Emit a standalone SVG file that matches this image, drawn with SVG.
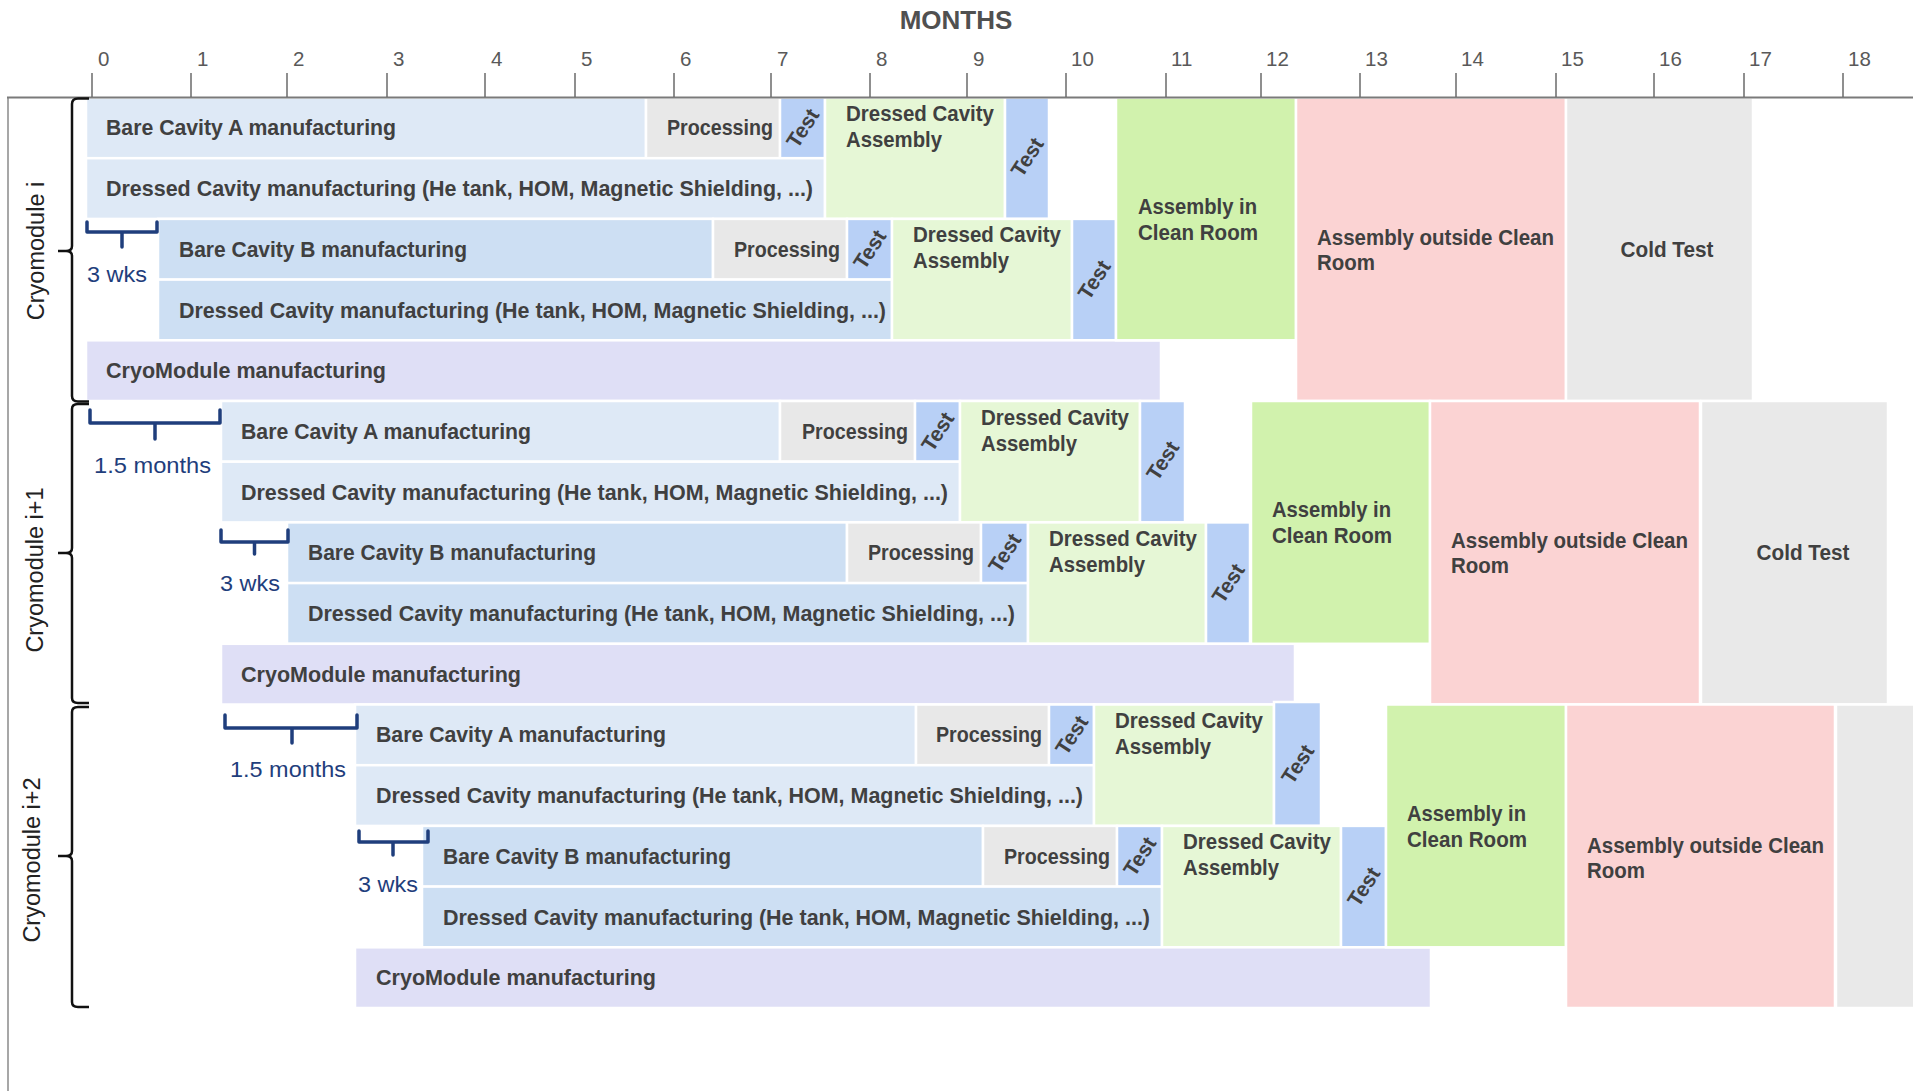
<svg xmlns="http://www.w3.org/2000/svg" width="1913" height="1091" viewBox="0 0 1913 1091">
<style>
rect{stroke:#fff;stroke-width:2.5}
.bA{fill:#dee9f6}.bB{fill:#cddff3}.pr{fill:#e8e8e8}.ts{fill:#b8d0f6}.dca{fill:#e6f7d6}.acr{fill:#d1f2ad}.aocr{fill:#fbd3d3}.ct{fill:#e9e9e9}.cm{fill:#dfdff6}
.lb{font-family:"Liberation Sans",Arial,sans-serif;font-weight:bold;font-size:21.5px;fill:#404040}
.tl{font-size:21px;text-anchor:middle;dominant-baseline:central}
.ax{font-family:"Liberation Sans",Arial,sans-serif;font-size:20.5px;fill:#595959}
.bl{font-family:"Liberation Sans",Arial,sans-serif;font-size:22px;fill:#1f3e7c}
.cmt{font-family:"Liberation Sans",Arial,sans-serif;font-size:23.5px;fill:#222;text-anchor:middle;dominant-baseline:central}
.brb{fill:none;stroke:#1f3e7c;stroke-width:3.5;stroke-linejoin:round;stroke-linecap:round}
.brk{fill:none;stroke:#111;stroke-width:2.5}
</style>
<rect x="0" y="0" width="1913" height="1091" fill="#fff" stroke="none"/>

<!-- ===== Cryomodule i ===== -->
<g id="cm0">
<g id="m0-bareA"><rect class="bA" x="86" y="97.5" width="560" height="60.7"/><text class="lb" x="106" y="135.4" textLength="290" lengthAdjust="spacingAndGlyphs">Bare Cavity A manufacturing</text></g>
<g id="m0-procA"><rect class="pr" x="646" y="97.5" width="134" height="60.7"/><text class="lb" x="773" y="135.4" text-anchor="end" textLength="106" lengthAdjust="spacingAndGlyphs">Processing</text></g>
<g id="m0-testA"><rect class="ts" x="780" y="97.5" width="45" height="60.7"/><text class="lb tl" transform="translate(802.5,127.9) rotate(-57)">Test</text></g>
<g id="m0-dressA"><rect class="bA" x="86" y="158.2" width="739" height="60.7"/><text class="lb" x="106" y="196" textLength="707" lengthAdjust="spacingAndGlyphs">Dressed Cavity manufacturing (He tank, HOM, Magnetic Shielding, ...)</text></g>
<g id="m0-dcaA"><rect class="dca" x="825" y="97.5" width="180" height="121.4"/><text class="lb" x="846" y="121" textLength="148" lengthAdjust="spacingAndGlyphs">Dressed Cavity</text><text class="lb" x="846" y="147" textLength="96" lengthAdjust="spacingAndGlyphs">Assembly</text></g>
<g id="m0-testA2"><rect class="ts" x="1005" y="97.5" width="44" height="121.4"/><text class="lb tl" transform="translate(1027,157) rotate(-57)">Test</text></g>
<g id="m0-bareB"><rect class="bB" x="158" y="218.9" width="555" height="60.7"/><text class="lb" x="179" y="256.8" textLength="288" lengthAdjust="spacingAndGlyphs">Bare Cavity B manufacturing</text></g>
<g id="m0-procB"><rect class="pr" x="713" y="218.9" width="134" height="60.7"/><text class="lb" x="840" y="256.8" text-anchor="end" textLength="106" lengthAdjust="spacingAndGlyphs">Processing</text></g>
<g id="m0-testB"><rect class="ts" x="847" y="218.9" width="45" height="60.7"/><text class="lb tl" transform="translate(869.5,249.3) rotate(-57)">Test</text></g>
<g id="m0-dressB"><rect class="bB" x="158" y="279.6" width="734" height="60.7"/><text class="lb" x="179" y="317.5" textLength="707" lengthAdjust="spacingAndGlyphs">Dressed Cavity manufacturing (He tank, HOM, Magnetic Shielding, ...)</text></g>
<g id="m0-dcaB"><rect class="dca" x="892" y="218.9" width="180" height="121.4"/><text class="lb" x="913" y="242.4" textLength="148" lengthAdjust="spacingAndGlyphs">Dressed Cavity</text><text class="lb" x="913" y="268.4" textLength="96" lengthAdjust="spacingAndGlyphs">Assembly</text></g>
<g id="m0-testB2"><rect class="ts" x="1072" y="218.9" width="44" height="121.4"/><text class="lb tl" transform="translate(1094,279.6) rotate(-57)">Test</text></g>
<g id="m0-cryo"><rect class="cm" x="86" y="340.3" width="1075" height="60.7"/><text class="lb" x="106" y="378.2" textLength="280" lengthAdjust="spacingAndGlyphs">CryoModule manufacturing</text></g>
<g id="m0-acr"><rect class="acr" x="1116" y="97.5" width="180" height="242.8"/><text class="lb" x="1138" y="213.9" textLength="119" lengthAdjust="spacingAndGlyphs">Assembly in</text><text class="lb" x="1138" y="239.9" textLength="120" lengthAdjust="spacingAndGlyphs">Clean Room</text></g>
<g id="m0-aocr"><rect class="aocr" x="1296" y="97.5" width="270" height="303.5"/><text class="lb" x="1317" y="244.8" textLength="237" lengthAdjust="spacingAndGlyphs">Assembly outside Clean</text><text class="lb" x="1317" y="269.8" textLength="58" lengthAdjust="spacingAndGlyphs">Room</text></g>
<g id="m0-cold"><rect class="ct" x="1566" y="97.5" width="187" height="303.5"/><text class="lb" x="1667" y="257" text-anchor="middle" textLength="93" lengthAdjust="spacingAndGlyphs">Cold Test</text></g>
</g>

<!-- ===== Cryomodule i+1 ===== -->
<g id="cm1">
<g id="m1-bareA"><rect class="bA" x="221" y="401" width="559" height="60.7"/><text class="lb" x="241" y="438.9" textLength="290" lengthAdjust="spacingAndGlyphs">Bare Cavity A manufacturing</text></g>
<g id="m1-procA"><rect class="pr" x="780" y="401" width="135" height="60.7"/><text class="lb" x="908" y="438.9" text-anchor="end" textLength="106" lengthAdjust="spacingAndGlyphs">Processing</text></g>
<g id="m1-testA"><rect class="ts" x="915" y="401" width="45" height="60.7"/><text class="lb tl" transform="translate(937.5,431.4) rotate(-57)">Test</text></g>
<g id="m1-dressA"><rect class="bA" x="221" y="461.7" width="739" height="60.7"/><text class="lb" x="241" y="499.6" textLength="707" lengthAdjust="spacingAndGlyphs">Dressed Cavity manufacturing (He tank, HOM, Magnetic Shielding, ...)</text></g>
<g id="m1-dcaA"><rect class="dca" x="960" y="401" width="180" height="121.4"/><text class="lb" x="981" y="424.5" textLength="148" lengthAdjust="spacingAndGlyphs">Dressed Cavity</text><text class="lb" x="981" y="450.5" textLength="96" lengthAdjust="spacingAndGlyphs">Assembly</text></g>
<g id="m1-testA2"><rect class="ts" x="1140" y="401" width="45" height="121.4"/><text class="lb tl" transform="translate(1162.5,460.5) rotate(-57)">Test</text></g>
<g id="m1-bareB"><rect class="bB" x="287" y="522.4" width="560" height="60.7"/><text class="lb" x="308" y="560.3" textLength="288" lengthAdjust="spacingAndGlyphs">Bare Cavity B manufacturing</text></g>
<g id="m1-procB"><rect class="pr" x="847" y="522.4" width="134" height="60.7"/><text class="lb" x="974" y="560.3" text-anchor="end" textLength="106" lengthAdjust="spacingAndGlyphs">Processing</text></g>
<g id="m1-testB"><rect class="ts" x="981" y="522.4" width="47" height="60.7"/><text class="lb tl" transform="translate(1004.5,552.8) rotate(-57)">Test</text></g>
<g id="m1-dressB"><rect class="bB" x="287" y="583.1" width="741" height="60.7"/><text class="lb" x="308" y="621" textLength="707" lengthAdjust="spacingAndGlyphs">Dressed Cavity manufacturing (He tank, HOM, Magnetic Shielding, ...)</text></g>
<g id="m1-dcaB"><rect class="dca" x="1028" y="522.4" width="178" height="121.4"/><text class="lb" x="1049" y="545.9" textLength="148" lengthAdjust="spacingAndGlyphs">Dressed Cavity</text><text class="lb" x="1049" y="571.9" textLength="96" lengthAdjust="spacingAndGlyphs">Assembly</text></g>
<g id="m1-testB2"><rect class="ts" x="1206" y="522.4" width="44" height="121.4"/><text class="lb tl" transform="translate(1228,583.1) rotate(-57)">Test</text></g>
<g id="m1-cryo"><rect class="cm" x="221" y="643.8" width="1074" height="60.7"/><text class="lb" x="241" y="681.7" textLength="280" lengthAdjust="spacingAndGlyphs">CryoModule manufacturing</text></g>
<g id="m1-acr"><rect class="acr" x="1251" y="401" width="179" height="242.8"/><text class="lb" x="1272" y="517.4" textLength="119" lengthAdjust="spacingAndGlyphs">Assembly in</text><text class="lb" x="1272" y="543.4" textLength="120" lengthAdjust="spacingAndGlyphs">Clean Room</text></g>
<g id="m1-aocr"><rect class="aocr" x="1430" y="401" width="270" height="303.5"/><text class="lb" x="1451" y="548.3" textLength="237" lengthAdjust="spacingAndGlyphs">Assembly outside Clean</text><text class="lb" x="1451" y="573.3" textLength="58" lengthAdjust="spacingAndGlyphs">Room</text></g>
<g id="m1-cold"><rect class="ct" x="1701" y="401" width="187" height="303.5"/><text class="lb" x="1803" y="560" text-anchor="middle" textLength="93" lengthAdjust="spacingAndGlyphs">Cold Test</text></g>
</g>

<!-- ===== Cryomodule i+2 ===== -->
<g id="cm2">
<g id="m2-bareA"><rect class="bA" x="355" y="704.5" width="561" height="60.7"/><text class="lb" x="376" y="742.4" textLength="290" lengthAdjust="spacingAndGlyphs">Bare Cavity A manufacturing</text></g>
<g id="m2-procA"><rect class="pr" x="916" y="704.5" width="133" height="60.7"/><text class="lb" x="1042" y="742.4" text-anchor="end" textLength="106" lengthAdjust="spacingAndGlyphs">Processing</text></g>
<g id="m2-testA"><rect class="ts" x="1049" y="704.5" width="45" height="60.7"/><text class="lb tl" transform="translate(1071.5,734.9) rotate(-57)">Test</text></g>
<g id="m2-dressA"><rect class="bA" x="355" y="765.2" width="739" height="60.7"/><text class="lb" x="376" y="803" textLength="707" lengthAdjust="spacingAndGlyphs">Dressed Cavity manufacturing (He tank, HOM, Magnetic Shielding, ...)</text></g>
<g id="m2-dcaA"><rect class="dca" x="1094" y="704.5" width="180" height="121.4"/><text class="lb" x="1115" y="728" textLength="148" lengthAdjust="spacingAndGlyphs">Dressed Cavity</text><text class="lb" x="1115" y="754" textLength="96" lengthAdjust="spacingAndGlyphs">Assembly</text></g>
<g id="m2-testA2"><rect class="ts" x="1274" y="702" width="47" height="123.9"/><text class="lb tl" transform="translate(1297.5,764) rotate(-57)">Test</text></g>
<g id="m2-bareB"><rect class="bB" x="422" y="825.9" width="561" height="60.7"/><text class="lb" x="443" y="863.8" textLength="288" lengthAdjust="spacingAndGlyphs">Bare Cavity B manufacturing</text></g>
<g id="m2-procB"><rect class="pr" x="983" y="825.9" width="134" height="60.7"/><text class="lb" x="1110" y="863.8" text-anchor="end" textLength="106" lengthAdjust="spacingAndGlyphs">Processing</text></g>
<g id="m2-testB"><rect class="ts" x="1117" y="825.9" width="45" height="60.7"/><text class="lb tl" transform="translate(1139.5,856.3) rotate(-57)">Test</text></g>
<g id="m2-dressB"><rect class="bB" x="422" y="886.6" width="740" height="60.7"/><text class="lb" x="443" y="924.5" textLength="707" lengthAdjust="spacingAndGlyphs">Dressed Cavity manufacturing (He tank, HOM, Magnetic Shielding, ...)</text></g>
<g id="m2-dcaB"><rect class="dca" x="1162" y="825.9" width="179" height="121.4"/><text class="lb" x="1183" y="849.4" textLength="148" lengthAdjust="spacingAndGlyphs">Dressed Cavity</text><text class="lb" x="1183" y="875.4" textLength="96" lengthAdjust="spacingAndGlyphs">Assembly</text></g>
<g id="m2-testB2"><rect class="ts" x="1341" y="825.9" width="45" height="121.4"/><text class="lb tl" transform="translate(1363.5,886.6) rotate(-57)">Test</text></g>
<g id="m2-cryo"><rect class="cm" x="355" y="947.3" width="1076" height="60.7"/><text class="lb" x="376" y="985.2" textLength="280" lengthAdjust="spacingAndGlyphs">CryoModule manufacturing</text></g>
<g id="m2-acr"><rect class="acr" x="1386" y="704.5" width="180" height="242.8"/><text class="lb" x="1407" y="821" textLength="119" lengthAdjust="spacingAndGlyphs">Assembly in</text><text class="lb" x="1407" y="847" textLength="120" lengthAdjust="spacingAndGlyphs">Clean Room</text></g>
<g id="m2-aocr"><rect class="aocr" x="1566" y="704.5" width="269" height="303.5"/><text class="lb" x="1587" y="852.5" textLength="237" lengthAdjust="spacingAndGlyphs">Assembly outside Clean</text><text class="lb" x="1587" y="877.5" textLength="58" lengthAdjust="spacingAndGlyphs">Room</text></g>
<g id="m2-cold"><rect class="ct" x="1836" y="704.5" width="90" height="303.5"/></g>
</g>

<!-- ===== Axis ===== -->
<g id="axis">
<line x1="8" y1="97.5" x2="8" y2="1091" stroke="#8a8a8a" stroke-width="1.5"/>
<line x1="7" y1="97.5" x2="1913" y2="97.5" stroke="#7a7a7a" stroke-width="2"/>
<g stroke="#6a6a6a" stroke-width="1.5">
<line x1="92" y1="73" x2="92" y2="97"/><line x1="191" y1="73" x2="191" y2="97"/><line x1="287" y1="73" x2="287" y2="97"/><line x1="387" y1="73" x2="387" y2="97"/><line x1="485" y1="73" x2="485" y2="97"/><line x1="575" y1="73" x2="575" y2="97"/><line x1="674" y1="73" x2="674" y2="97"/><line x1="771" y1="73" x2="771" y2="97"/><line x1="870" y1="73" x2="870" y2="97"/><line x1="967" y1="73" x2="967" y2="97"/><line x1="1066" y1="73" x2="1066" y2="97"/><line x1="1166" y1="73" x2="1166" y2="97"/><line x1="1261" y1="73" x2="1261" y2="97"/><line x1="1360" y1="73" x2="1360" y2="97"/><line x1="1456" y1="73" x2="1456" y2="97"/><line x1="1556" y1="73" x2="1556" y2="97"/><line x1="1654" y1="73" x2="1654" y2="97"/><line x1="1744" y1="73" x2="1744" y2="97"/><line x1="1843" y1="73" x2="1843" y2="97"/>
</g>
<g class="ax">
<text x="98" y="66">0</text><text x="197" y="66">1</text><text x="293" y="66">2</text><text x="393" y="66">3</text><text x="491" y="66">4</text><text x="581" y="66">5</text><text x="680" y="66">6</text><text x="777" y="66">7</text><text x="876" y="66">8</text><text x="973" y="66">9</text><text x="1071" y="66">10</text><text x="1171" y="66">11</text><text x="1266" y="66">12</text><text x="1365" y="66">13</text><text x="1461" y="66">14</text><text x="1561" y="66">15</text><text x="1659" y="66">16</text><text x="1749" y="66">17</text><text x="1848" y="66">18</text>
</g>
<text x="956" y="29" text-anchor="middle" font-family="Liberation Sans, Arial, sans-serif" font-weight="bold" font-size="26" fill="#505050">MONTHS</text>
</g>

<!-- ===== Cryomodule braces and labels ===== -->
<g id="cryomodule-labels">
<path class="brk" d="M89,98.5 H78 Q72,98.5 72,104 V246 Q72,251 66,251 H58 M66,251 Q72,251 72,256 V396 Q72,401.5 78,401.5 H89"/>
<path class="brk" d="M89,404 H78 Q72,404 72,409 V548 Q72,553 66,553 H58 M66,553 Q72,553 72,558 V698 Q72,703 78,703 H89"/>
<path class="brk" d="M89,707 H78 Q72,707 72,712 V851 Q72,856 66,856 H58 M66,856 Q72,856 72,861 V1002 Q72,1007 78,1007 H89"/>
<text class="cmt" transform="translate(36,251) rotate(-90)">Cryomodule i</text>
<text class="cmt" transform="translate(35,570) rotate(-90)">Cryomodule i+1</text>
<text class="cmt" transform="translate(32,860) rotate(-90)">Cryomodule i+2</text>
</g>

<!-- ===== Lag annotations ===== -->
<g id="connectors">
<path class="brb" d="M87,222 V232 H157 V222 M122,232 V247"/>
<text class="bl" x="87" y="282" textLength="60" lengthAdjust="spacingAndGlyphs">3 wks</text>
<path class="brb" d="M90,410 V423 H220 V410 M155,423 V439"/>
<text class="bl" x="94" y="473" textLength="117" lengthAdjust="spacingAndGlyphs">1.5 months</text>
<path class="brb" d="M221,530 V542 H288 V530 M254.5,542 V554"/>
<text class="bl" x="220" y="591" textLength="60" lengthAdjust="spacingAndGlyphs">3 wks</text>
<path class="brb" d="M225,715 V728 H357 V715 M292,728 V743"/>
<text class="bl" x="230" y="777" textLength="116" lengthAdjust="spacingAndGlyphs">1.5 months</text>
<path class="brb" d="M359,831 V842 H428 V831 M393,842 V855"/>
<text class="bl" x="358" y="892" textLength="60" lengthAdjust="spacingAndGlyphs">3 wks</text>
</g>
</svg>
